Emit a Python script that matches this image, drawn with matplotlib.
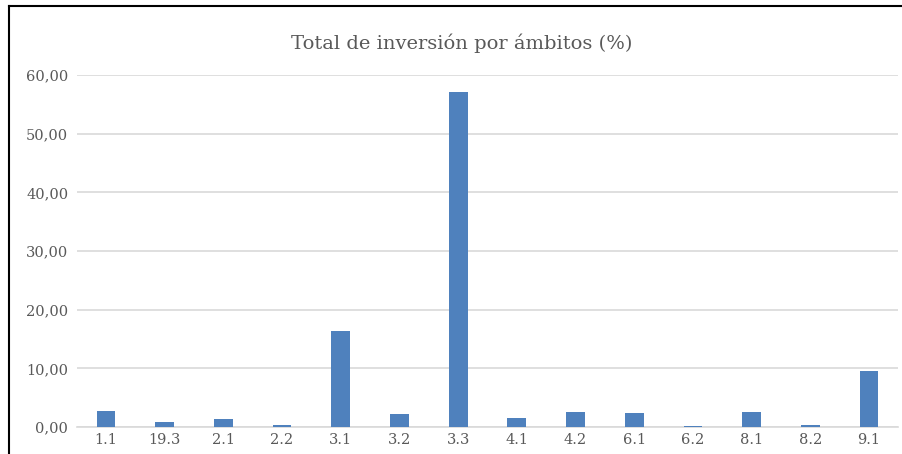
import matplotlib.pyplot as plt
from matplotlib.lines import Line2D
from matplotlib.ticker import FuncFormatter

categories = ['1.1', '19.3', '2.1', '2.2', '3.1', '3.2', '3.3',
              '4.1', '4.2', '6.1', '6.2', '8.1', '8.2', '9.1']
values = [2.73, 0.90, 1.30, 0.34, 16.35, 2.27, 57.07,
          1.53, 2.56, 2.44, 0.17, 2.50, 0.34, 9.49]
title = 'Total de inversión por ámbitos (%)'

W, H = 903, 454
fig = plt.figure(figsize=(W / 100, H / 100), dpi=100)
ax = fig.add_axes([76.6 / W, 27 / H, (898.4 - 76.6) / W, (427 - 75) / H])

grey = '#595959'
font = 'DejaVu Serif'

x = range(len(categories))
ax.bar(x, values, width=0.32, color='#4f81bd', zorder=3)
ax.set_xlim(-0.5, len(categories) - 0.5)
ax.set_ylim(0, 60)
ax.set_yticks(range(0, 61, 10))
ax.yaxis.set_major_formatter(FuncFormatter(lambda v, p: f'{v:.2f}'.replace('.', ',')))
ax.set_xticks(list(x))
ax.set_xticklabels(categories)

ax.grid(axis='y', color='#d9d9d9', linewidth=1.2, zorder=0)
for s in ['top', 'right', 'left']:
    ax.spines[s].set_visible(False)
ax.spines['bottom'].set_color('#d9d9d9')
ax.spines['bottom'].set_linewidth(1.2)
ax.tick_params(axis='both', length=0, colors=grey, labelsize=10.5)
ax.tick_params(axis='y', pad=6)
ax.tick_params(axis='x', pad=4)
for lab in ax.get_xticklabels() + ax.get_yticklabels():
    lab.set_fontfamily(font)

fig.text(462 / W, 1 - 43 / H, title, ha='center', va='center',
         fontsize=14, color=grey, fontfamily=font)

# chart frame (only left and top edges visible in the crop)
fig.add_artist(Line2D([9.5 / W, 9.5 / W], [0, 1 - 5.5 / H], color='black', linewidth=1.5))
fig.add_artist(Line2D([9.5 / W, 1], [1 - 5.5 / H, 1 - 5.5 / H], color='black', linewidth=1.5))

fig.savefig('out.png', dpi=100)
